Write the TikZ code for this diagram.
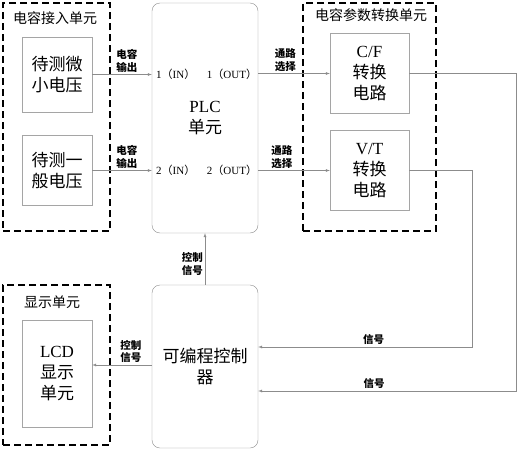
\documentclass[tikz,border=0pt]{standalone}
\usepackage{fontspec}
\setmainfont{Liberation Serif}
\newfontfamily\cjk{Noto Sans CJK SC}
\usetikzlibrary{positioning}
\definecolor{linegray}{RGB}{140,140,140}
\definecolor{boxgray}{RGB}{165,165,165}

\begin{document}
\begin{tikzpicture}[x=1pt,y=-1pt,
box/.style={draw=boxgray, align=center, inner sep=0pt, font=\cjk\fontsize{17}{21}\selectfont},
unit/.style={draw, line width=2.2pt, dash pattern=on 7pt off 4pt, inner sep=0pt},
plcbox/.style={draw=linegray, rounded corners=8pt, align=center, inner sep=0pt, font=\cjk\fontsize{17}{21}\selectfont},
title/.style={font=\cjk\fontsize{14}{16}\selectfont},
note/.style={align=center, inner sep=2pt, font=\cjk\bfseries\fontsize{10.5}{12.5}\selectfont},
port/.style={inner sep=1pt, font=\fontsize{11}{13}\selectfont},
arrow/.style={-latex, draw=linegray, thin}
]
\useasboundingbox (0,0) rectangle (517,450);
\node[unit, minimum width=107pt, minimum height=228pt] (inunit) at (56.5,117) {};
\node[unit, minimum width=133pt, minimum height=228pt] (convunit) at (369.5,117) {};
\node[unit, minimum width=107pt, minimum height=160pt] (showunit) at (56.5,365) {};
\node[title] (intitle) at (55,18) {电容接入单元};
\node[title] (convtitle) at (371,15) {电容参数转换单元};
\node[title] (showtitle) at (52,302) {显示单元};
\node[box, minimum width=70pt, minimum height=75pt] (small) at (57,74.5) {待测微\\小电压};
\node[box, minimum width=70pt, minimum height=70pt] (normal) at (57,170.5) {待测一\\般电压};
\node[box, minimum width=79pt, minimum height=80pt] (cf) at (369.5,73.5) {{\rmfamily C/F}\\转换\\电路};
\node[box, minimum width=79pt, minimum height=80pt] (vt) at (369.5,170.5) {{\rmfamily V/T}\\转换\\电路};
\node[box, minimum width=70pt, minimum height=107pt] (lcd) at (57,373.5) {{\rmfamily LCD}\\显示\\单元};
\node[plcbox, minimum width=106pt, minimum height=230pt] (plc) at (205,118) {{\rmfamily PLC}\\单元};
\node[plcbox, minimum width=106pt, minimum height=163pt] (ctrl) at (205,366.5) {可编程控制\\器};
\node[port, anchor=west] (in1) at (155,74.5) {1{\cjk （}IN{\cjk ）}};
\node[port, anchor=west] (in2) at (155,170.5) {2{\cjk （}IN{\cjk ）}};
\node[port, anchor=east] (out1) at (plc.east |- in1) {1{\cjk （}OUT{\cjk ）}};
\node[port, anchor=east] (out2) at (plc.east |- in2) {2{\cjk （}OUT{\cjk ）}};
\coordinate (cfback) at (516,391);
\coordinate (vtback) at (472,347);
\draw[arrow] (small.east) -- node[note, above, pos=0.58] {电容\\输出} (small.east -| plc.west);
\draw[arrow] (normal.east) -- node[note, above, pos=0.58] {电容\\输出} (normal.east -| plc.west);
\draw[arrow] (cf.west -| plc.east) -- node[note, above, pos=0.38] {通路\\选择} (cf.west);
\draw[arrow] (vt.west -| plc.east) -- node[note, above, pos=0.33] {通路\\选择} (vt.west);
\draw[arrow] (ctrl.north) -- node[note, left, pos=0.4] {控制\\信号} (plc.south);
\draw[arrow] (ctrl.west |- 0,365) -- node[note, above, pos=0.35] {控制\\信号} (lcd.east |- 0,365);
\draw[arrow] (cf.east) -| (cfback) -- node[note, above, pos=0.55] {信号} (cfback -| ctrl.east);
\draw[arrow] (vt.east) -| (vtback) -- node[note, above, pos=0.46] {信号} (vtback -| ctrl.east);
\end{tikzpicture}
\end{document}
